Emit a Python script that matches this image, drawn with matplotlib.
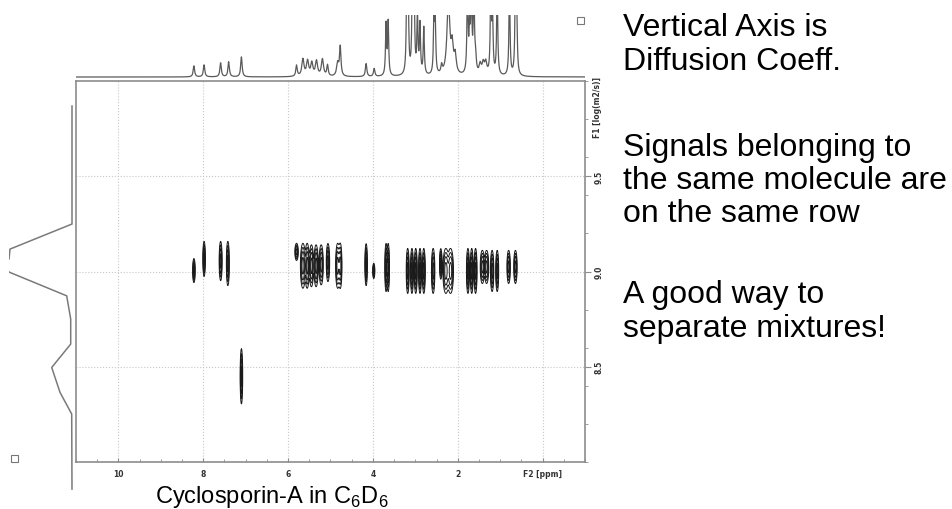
import numpy as np
import matplotlib.pyplot as plt
from matplotlib.patches import Rectangle
from matplotlib.ticker import MultipleLocator, FixedLocator

plt.rcParams['font.family'] = ['Liberation Sans', 'DejaVu Sans']
plt.rcParams['mathtext.fontset'] = 'custom'
plt.rcParams['mathtext.rm'] = 'Liberation Sans'

# 1H projection (top): shift in ppm, peak height, line width in ppm
h1_ppm = [8.22, 7.98, 7.59, 7.40, 7.10,
          5.80, 5.65, 5.54, 5.44, 5.33, 5.19, 5.07, 4.83, 4.77,
          4.16, 3.97, 3.69, 3.64, 3.20, 3.17, 3.07, 3.03, 2.95, 2.89, 2.80,
          2.56, 2.53, 2.38, 2.22, 2.13, 2.06, 1.77, 1.72, 1.68, 1.62, 1.58,
          1.47, 1.40, 1.34, 1.22, 1.18, 1.07, 0.78, 0.64, 0.61]
h1_height = [11, 12, 14, 15, 20,
             11, 17, 15, 13, 15, 17, 11, 13, 29,
             13, 8, 51, 53, 90, 80, 90, 90, 60, 49, 47,
             58, 49, 8, 75, 26, 18, 90, 40, 90, 90, 15,
             10, 11, 12, 90, 60, 90, 90, 90, 60]
h1_width = [0.02, 0.02, 0.02, 0.02, 0.02,
            0.02, 0.03, 0.03, 0.03, 0.03, 0.03, 0.02, 0.03, 0.02,
            0.02, 0.02, 0.015, 0.015, 0.015, 0.015, 0.015, 0.015, 0.015, 0.015, 0.015,
            0.015, 0.015, 0.02, 0.04, 0.03, 0.03, 0.015, 0.015, 0.015, 0.015, 0.02,
            0.03, 0.03, 0.03, 0.015, 0.015, 0.015, 0.015, 0.015, 0.015]

# DOSY cross peaks: F2 shift (ppm), F1 log D, half width (ppm), half height (log D)
dosy_ppm = [8.22, 7.98, 7.59, 7.42, 7.10,
            5.80, 5.65, 5.55, 5.45, 5.34, 5.22, 5.06, 4.83, 4.77,
            4.16, 3.98, 3.69, 3.64, 3.18, 3.08, 2.99, 2.89, 2.80,
            2.58, 2.40, 2.28, 2.17, 1.76, 1.67, 1.58,
            1.42, 1.32, 1.19, 1.07, 0.80, 0.64]
dosy_logd = [9.005, 9.066, 9.055, 9.042, 8.45,
             9.103, 9.03, 9.03, 9.03, 9.03, 9.035, 9.047, 9.03, 9.03,
             9.036, 9.003, 9.021, 9.021, 9.003, 9.003, 9.003, 9.003, 9.003,
             9.003, 9.04, 9.003, 9.003, 9.003, 9.003, 9.003,
             9.024, 9.024, 9.003, 9.003, 9.024, 9.024]
dosy_dppm = [0.03, 0.03, 0.035, 0.035, 0.03,
             0.04, 0.06, 0.05, 0.05, 0.05, 0.05, 0.04, 0.05, 0.04,
             0.03, 0.025, 0.03, 0.03, 0.035, 0.035, 0.035, 0.035, 0.035,
             0.04, 0.03, 0.07, 0.07, 0.035, 0.035, 0.035,
             0.05, 0.05, 0.04, 0.035, 0.04, 0.04]
dosy_dlogd = [0.063, 0.092, 0.103, 0.116, 0.145,
              0.045, 0.118, 0.118, 0.11, 0.11, 0.105, 0.10, 0.118, 0.118,
              0.11, 0.04, 0.126, 0.126, 0.118, 0.118, 0.118, 0.118, 0.118,
              0.118, 0.08, 0.118, 0.118, 0.118, 0.118, 0.118,
              0.087, 0.087, 0.108, 0.108, 0.087, 0.087]

# F1 projection (left), vertices
proj_logd = [9.874, 9.253, 9.121, 9.068, 9.04, 8.998, 8.875, 8.753, 8.621, 8.498, 8.367, 8.253, 7.858]
proj_int = [0, 0, 62, 63, 75, 62, 5.3, 1.3, 1.3, 20.3, 12, 0.3, 0]

W, H = 952, 510
fig = plt.figure(figsize=(W / 100, H / 100), dpi=100)

def px_axes(x0, y0, x1, y1):
    return fig.add_axes([x0 / W, 1 - y1 / H, (x1 - x0) / W, (y1 - y0) / H])

grey = '#8c8c8c'

# main 2D plot
ax = px_axes(76, 82, 585, 463)
x = np.linspace(-1, 11, 2401)
y = np.linspace(8, 10, 801)
sx = np.array(dosy_dppm) / 2.039
sy = np.array(dosy_dlogd) / 2.039
gx = np.exp(-0.5 * ((x[None, :] - np.array(dosy_ppm)[:, None]) / sx[:, None]) ** 2)
gy = np.exp(-0.5 * ((y[:, None] - np.array(dosy_logd)[None, :]) / sy[None, :]) ** 2)
Z = gy @ (8.0 * gx)
ax.contour(x, y, Z, levels=[1, 2, 3.5, 6], colors='#1a1a1a', linewidths=0.7)
ax.set_xlim(11, -1)
ax.set_ylim(8, 10)
ax.xaxis.set_major_locator(FixedLocator([10, 8, 6, 4, 2, 0]))
ax.set_xticklabels(['10', '8', '6', '4', '2', 'F2 [ppm]'])
ax.xaxis.set_minor_locator(MultipleLocator(0.5))
ax.yaxis.set_major_locator(FixedLocator([9.5, 9.0, 8.5]))
ax.yaxis.set_minor_locator(MultipleLocator(0.2))
ax.yaxis.tick_right()
ax.set_yticklabels(['9.5', '9.0', '8.5'], rotation=90, va='center')
ax.tick_params(which='both', colors=grey, labelcolor='#333333', labelsize=5.5)
ax.tick_params(axis='x', which='major', direction='in', length=3, pad=5)
ax.tick_params(axis='x', which='minor', direction='in', length=2)
ax.tick_params(axis='y', which='major', direction='out', length=4, pad=3)
ax.tick_params(axis='y', which='minor', direction='out', length=2)
for lab in ax.get_xticklabels() + ax.get_yticklabels():
    lab.set_fontweight('bold')
    lab.set_family('DejaVu Sans')
ax.grid(True, which='major', linestyle=':', color='#c8c8c8', linewidth=0.8)
for sp in ax.spines.values():
    sp.set_color(grey)
    sp.set_linewidth(1.2)
ax.text(1.0236, 0.934, 'F1 [log(m2/s)]', transform=ax.transAxes, rotation=90,
        ha='center', va='center', fontsize=5.5, fontweight='bold', color='#333333',
        family='DejaVu Sans')

# top 1H projection
axt = px_axes(76, 16, 585, 80)
xs = np.linspace(-1, 11, 6001)
spec = np.zeros_like(xs)
for p, h, w in zip(h1_ppm, h1_height, h1_width):
    spec += h / (1 + ((xs - p) / w) ** 2)
axt.plot(xs, spec, color='#5a5a5a', lw=0.9)
axt.set_xlim(11, -1)
axt.set_ylim(-2, 62)
axt.axis('off')

# left F1 projection
axl = px_axes(9, 100, 74, 495)
axl.plot(proj_int, proj_logd, color='#7a7a7a', lw=1.1)
axl.set_xlim(63, -2)
axl.set_ylim(7.832, 9.911)
axl.axis('off')

# small hollow squares
for cx, cy in [(580, 21), (14.5, 459)]:
    fig.add_artist(Rectangle(((cx - 3.5) / W, 1 - (cy + 3.5) / H), 7 / W, 7 / H,
                             transform=fig.transFigure, fill=False,
                             edgecolor='#777777', lw=0.8))

# notes on the right
notes = [('Vertical Axis is', 36), ('Diffusion Coeff.', 70),
         ('Signals belonging to', 156), ('the same molecule are', 189),
         ('on the same row', 222),
         ('A good way to', 303), ('separate mixtures!', 337)]
for txt, base in notes:
    fig.text(623 / W, 1 - base / H, txt, fontsize=23, color='black',
             ha='left', va='baseline')

fig.text(272 / W, 1 - 503 / H, r'Cyclosporin-A in C$_\mathrm{6}$D$_\mathrm{6}$',
         fontsize=17, ha='center', va='baseline')

fig.savefig('out.png', dpi=100)
